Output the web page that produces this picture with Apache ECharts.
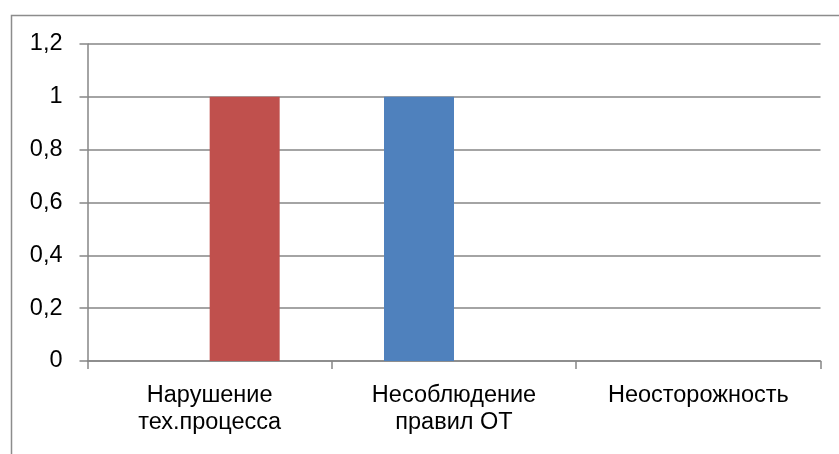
<!DOCTYPE html>
<html><head><meta charset="utf-8">
<script src="https://cdn.jsdelivr.net/npm/echarts@6/dist/echarts.min.js"></script>
<style>html,body{margin:0;padding:0;background:#fff}#c{width:839px;height:454px}</style>
</head><body><div id="c"></div>
<script>
const categories = ["Нарушение\nтех.процесса", "Несоблюдение\nправил ОТ", "Неосторожность"];
const seriesBlue = [0, 1, 0];
const seriesRed = [1, 0, 0];
const yMin = 0, yMax = 1.2, yStep = 0.2;

const chart = echarts.init(document.getElementById('c'), null, {renderer: 'canvas'});
const FONT = '"Liberation Sans", Arial, sans-serif';
const GRAY = '#868686';
chart.setOption({
  animation: false,
  backgroundColor: '#fff',
  graphic: [{
    type: 'rect', shape: {x: 11.5, y: 15.5, width: 900, height: 500},
    style: {fill: 'none', stroke: '#8c8c8c', lineWidth: 1.5}, silent: true, z: 0
  }],
  grid: {left: 87.5, right: 18.5, top: 44, bottom: 93, containLabel: false},
  xAxis: {
    type: 'category', data: categories,
    axisLine: {show: true, lineStyle: {color: GRAY, width: 1.5}},
    axisTick: {show: true, length: 8, alignWithLabel: false, lineStyle: {color: GRAY, width: 1.5}},
    axisLabel: {color: '#000', fontFamily: FONT, fontSize: 23.5, lineHeight: 27, margin: 21, interval: 0},
    splitLine: {show: false}
  },
  yAxis: {
    type: 'value', min: yMin, max: yMax, interval: yStep,
    axisLine: {show: true, lineStyle: {color: GRAY, width: 1.5}},
    axisTick: {show: true, length: 8, inside: false, lineStyle: {color: GRAY, width: 1.5}},
    axisLabel: {color: '#000', fontFamily: FONT, fontSize: 23.5, margin: 25,
      formatter: v => String(Math.round(v * 10) / 10).replace('.', ',')},
    splitLine: {show: true, lineStyle: {color: GRAY, width: 1.5}}
  },
  series: [
    {type: 'bar', name: 'Ряд1', data: seriesBlue, barWidth: 70, barGap: '0%', itemStyle: {color: '#4F81BD'}},
    {type: 'bar', name: 'Ряд2', data: seriesRed, barWidth: 70, barGap: '0%', itemStyle: {color: '#C0504D'}}
  ]
});
</script></body></html>
